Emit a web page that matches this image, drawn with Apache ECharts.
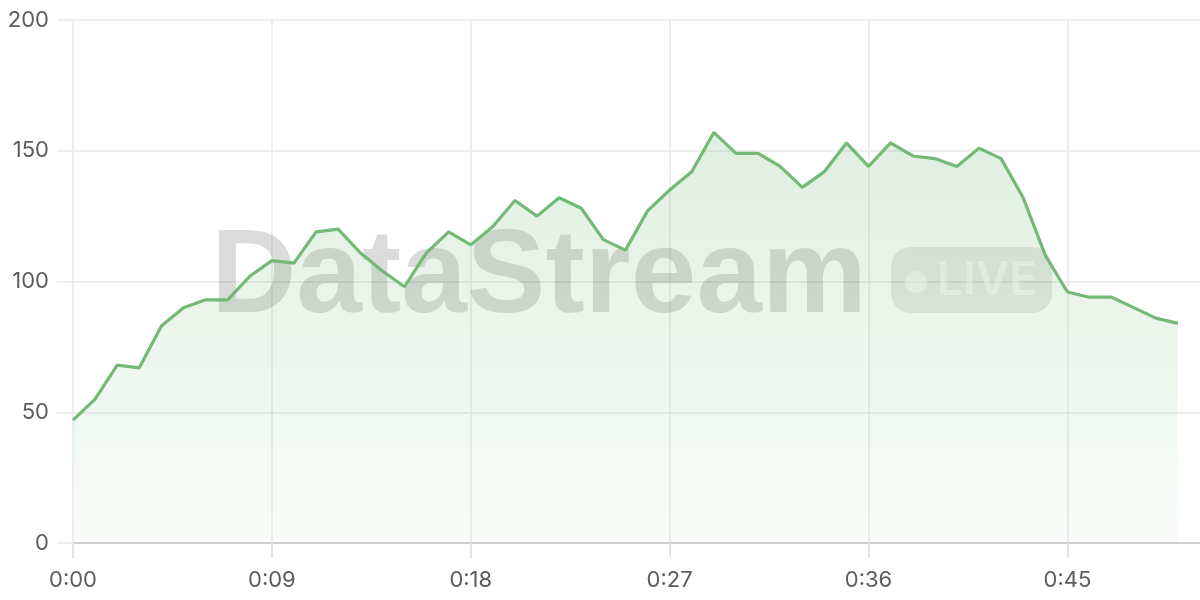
<!DOCTYPE html>
<html>
<head>
<meta charset="utf-8">
<script src="https://cdn.jsdelivr.net/npm/echarts@6/dist/echarts.min.js"></script>
<style>
html,body{margin:0;padding:0;background:#fff;}
#chart{width:1200px;height:600px;}
</style>
</head>
<body>
<div id="chart"></div>
<script>
const categories = ['0:00','0:01','0:02','0:03','0:04','0:05','0:06','0:07','0:08','0:09',
  '0:10','0:11','0:12','0:13','0:14','0:15','0:16','0:17','0:18','0:19',
  '0:20','0:21','0:22','0:23','0:24','0:25','0:26','0:27','0:28','0:29',
  '0:30','0:31','0:32','0:33','0:34','0:35','0:36','0:37','0:38','0:39',
  '0:40','0:41','0:42','0:43','0:44','0:45','0:46','0:47','0:48','0:49',
  '0:50','0:51'];
const values = [47,55,68,67,83,90,93,93,102,108,
  107,119,120,111,104,98,111,119,114,121,
  131,125,132,128,116,112,127,135,142,157,
  149,149,144,136,142,153,144,153,148,147,
  144,151,147,132,110,96,94,94,90,86,
  84];
const yTicks = [0,50,100,150,200];
const watermarkText = 'DataStream';
const badgeText = 'LIVE';

const chart = echarts.init(document.getElementById('chart'), null, {renderer:'canvas'});
const labelFont = 'Inter';
chart.setOption({
  animation:false,
  backgroundColor:'#ffffff',
  grid:{left:73,right:0,top:20,bottom:57,containLabel:false},
  xAxis:{
    type:'category',
    data:categories,
    boundaryGap:false,
    axisLine:{show:true,lineStyle:{color:'#d0d0d0',width:2}},
    axisTick:{show:true,interval:8,length:15,lineStyle:{color:'#e2e2e2',width:2}},
    axisLabel:{interval:8,color:'#5c5c5c',fontSize:22,fontFamily:labelFont,margin:26},
    splitLine:{show:true,interval:8,lineStyle:{color:'#e8e8e8',width:1.5}}
  },
  yAxis:{
    type:'value',
    min:yTicks[0],max:yTicks[yTicks.length-1],interval:50,
    axisLine:{show:false},
    axisTick:{show:true,length:16,lineStyle:{color:'#e8e8e8',width:1.5}},
    axisLabel:{color:'#5c5c5c',fontSize:22,fontFamily:labelFont,margin:24},
    splitLine:{show:true,lineStyle:{color:'#e8e8e8',width:1.5}}
  },
  graphic:[
    {type:'text',z:1,silent:true,
      style:{x:539,y:279,text:watermarkText,fill:'rgba(0,0,0,0.14)',
        font:'bold 118px "Liberation Sans"',textAlign:'center',textVerticalAlign:'middle'}},
    {type:'rect',z:1,silent:true,shape:{x:891,y:247,width:161,height:66,r:20},
      style:{fill:'rgba(0,0,0,0.09)'}},
    {type:'circle',z:1,silent:true,shape:{cx:916,cy:282,r:11},
      style:{fill:'rgba(255,255,255,0.55)'}},
    {type:'text',z:1,silent:true,
      style:{x:937,y:281,text:badgeText,fill:'rgba(255,255,255,0.55)',
        font:'600 46px "Inter"',textAlign:'left',textVerticalAlign:'middle'}}
  ],
  series:[{
    type:'line',
    data:values,
    z:5,
    symbol:'none',
    smooth:false,
    lineStyle:{color:'#74b976',width:3.2},
    areaStyle:{color:new echarts.graphic.LinearGradient(0,0,0,1,[
      {offset:0,color:'rgba(116,185,118,0.32)'},
      {offset:1,color:'rgba(116,185,118,0.06)'}
    ])}
  }]
});
</script>
</body>
</html>
